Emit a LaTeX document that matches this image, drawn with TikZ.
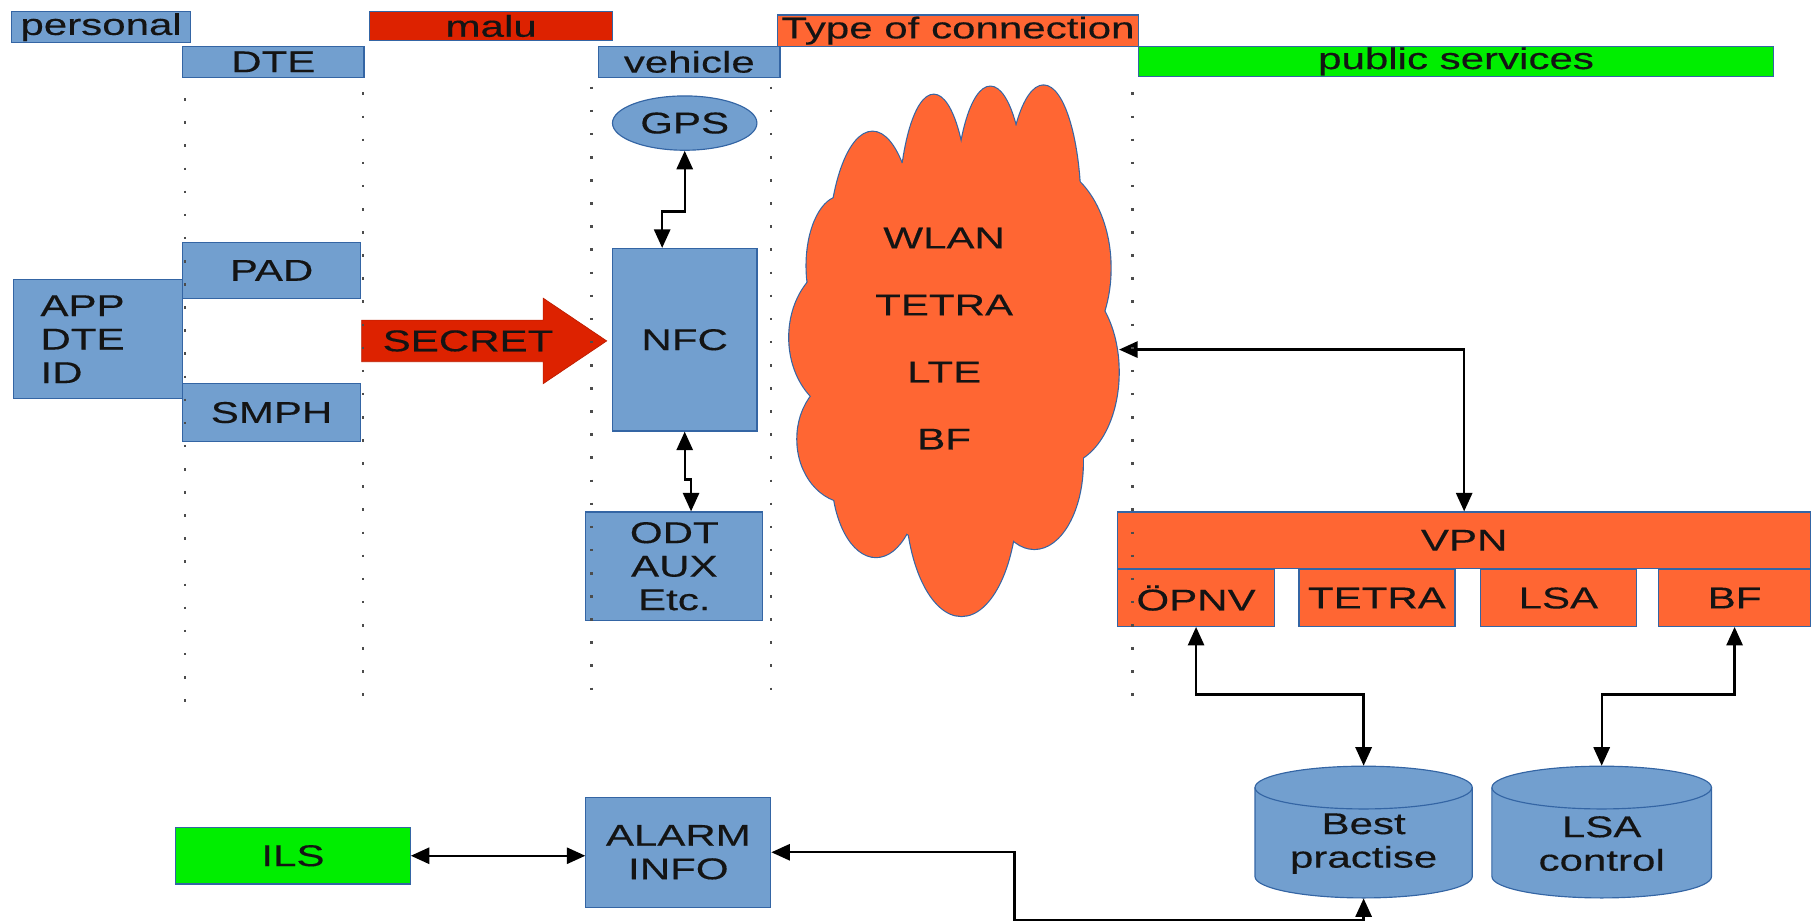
\documentclass[tikz,border=0pt]{standalone}
\usepackage{fontspec}
\setmainfont{Liberation Sans}[FakeStretch=1.4,FakeBold=0.3]
\usetikzlibrary{arrows.meta,shapes.geometric}
\definecolor{boxblue}{HTML}{729FCF}
\definecolor{bordc}{HTML}{3465A4}
\definecolor{orangec}{HTML}{FF6633}
\definecolor{reddc}{HTML}{DD2200}
\definecolor{greenc}{HTML}{00EE00}
\definecolor{txtc}{HTML}{141414}
\tikzset{
  base/.style={draw=bordc, line width=0.5pt, inner sep=0pt, rectangle, text=txtc, align=center,
    font=\fontsize{13}{14.5}\selectfont},
  bluebox/.style={base, fill=boxblue},
  orbox/.style={base, fill=orangec},
  redbox/.style={base, fill=reddc},
  grbox/.style={base, fill=greenc},
  txt/.style={inner sep=0pt, text=txtc, align=center, font=\fontsize{13}{14.5}\selectfont},
  conn/.style={line width=1pt, black, {Triangle[length=8pt,width=7pt]}-{Triangle[length=8pt,width=7pt]}},
  dotl/.style={line width=1.1pt, black!70, dash pattern=on 1.1pt off 8.9pt},
  cyl/.style={draw=bordc, fill=boxblue, line width=0.5pt}
}
\begin{document}
\begin{tikzpicture}[x=0.5pt,y=-0.5pt]
\useasboundingbox (0,0) rectangle (1568,799);

% headers
\node[bluebox, minimum width=77.5pt, minimum height=13.5pt] (personal) at (87.5,23.5) {personal};
\node[bluebox, minimum width=78.5pt, minimum height=13.5pt] (dte) at (236.5,53.5) {DTE};
\node[redbox, minimum width=105pt, minimum height=12.5pt] (malu) at (425,22.5) {malu};
\node[bluebox, minimum width=78.5pt, minimum height=13.5pt] (vehicle) at (596.5,53.5) {vehicle};
\node[orbox, minimum width=156pt, minimum height=13.5pt] (typeconn) at (829,26.5) {Type of connection};
\node[grbox, minimum width=275pt, minimum height=13pt] (public) at (1260,53) {public services};

% left blocks
\node[bluebox, minimum width=73pt, minimum height=51.5pt, inner xsep=11.5pt, text width=50pt, align=left] (app) at (85,293.5) {APP\\DTE\\ID};
\node[bluebox, minimum width=77pt, minimum height=24pt] (pad) at (235,234) {PAD};
\node[bluebox, minimum width=77pt, minimum height=25pt] (smph) at (235,357) {SMPH};

% secret arrow
\draw[fill=reddc, draw=reddc!85!black, line width=0.3pt] (313,277) -- (470,277) -- (470,258) -- (525,295) -- (470,332) -- (470,313) -- (313,313) -- cycle;
\node[txt] (secret) at (405,295) {SECRET};

% vehicle column
\node[base, ellipse, fill=boxblue, minimum width=62.5pt, minimum height=23.5pt] (gps) at (592.5,106.5) {GPS};
\node[bluebox, minimum width=62.5pt, minimum height=79pt] (nfc) at (592.5,294) {NFC};
\node[bluebox, minimum width=76.5pt, minimum height=47pt] (odt) at (583.5,490) {ODT\\AUX\\Etc.};

% cloud: union of puffs
\def\puffs{755/222/38/108, 808/190/30/108, 857/181/30/106, 903/182/32/108, 900/232/61/90,
  918/322/50/80, 895/400/42/75, 832/430/48/103, 758/410/38/72, 735/380/45/55, 735/292/52/66,
  728/230/30/60, 825/300/105/175}
\foreach \cx/\cy/\rx/\ry in \puffs
  \draw[draw=bordc, line width=1pt, fill=orangec] (\cx,\cy) ellipse[x radius=\rx*0.5pt, y radius=\ry*0.5pt];
\foreach \cx/\cy/\rx/\ry in \puffs
  \fill[orangec] (\cx,\cy) ellipse[x radius=\rx*0.5pt, y radius=\ry*0.5pt];
\node[minimum width=142.5pt, minimum height=230.5pt, inner sep=0pt] (cloud) at (825.5,302.5) {};
\node[txt] (cloudtext) at (817,293) {WLAN\\[14.5pt]TETRA\\[14.5pt]LTE\\[14.5pt]BF};

% VPN
\node[orbox, minimum width=300pt, minimum height=24.5pt] (vpn) at (1267,467.5) {VPN};
\node[orbox, minimum width=68pt, minimum height=24.5pt] (opnv) at (1035,517.5) {ÖPNV};
\node[orbox, minimum width=67.5pt, minimum height=24.5pt] (tetra) at (1191.5,517.5) {TETRA};
\node[orbox, minimum width=67.5pt, minimum height=24.5pt] (lsa) at (1348.5,517.5) {LSA};
\node[orbox, minimum width=66pt, minimum height=24.5pt] (bf) at (1501,517.5) {BF};

% cylinders
\draw[cyl] (1086,681.5) -- (1086,758.5) arc[start angle=180, end angle=360, x radius=47pt, y radius=9.25pt]
  -- (1274,681.5) arc[start angle=0, end angle=180, x radius=47pt, y radius=9.25pt] -- cycle;
\draw[bordc, line width=0.5pt] (1086,681.5) arc[start angle=180, end angle=360, x radius=47pt, y radius=9.25pt];
\node[minimum width=94pt, minimum height=57pt, inner sep=0pt] (best) at (1180,720) {};
\node[txt] (besttext) at (1180,730) {Best\\practise};

\draw[cyl] (1291,681.5) -- (1291,758.5) arc[start angle=180, end angle=360, x radius=47.5pt, y radius=9.25pt]
  -- (1481,681.5) arc[start angle=0, end angle=180, x radius=47.5pt, y radius=9.25pt] -- cycle;
\draw[bordc, line width=0.5pt] (1291,681.5) arc[start angle=180, end angle=360, x radius=47.5pt, y radius=9.25pt];
\node[minimum width=95pt, minimum height=57pt, inner sep=0pt] (lsac) at (1386,720) {};
\node[txt] (lsactext) at (1386,730) {LSA\\control};

% bottom
\node[grbox, minimum width=101.5pt, minimum height=24.5pt] (ils) at (253.5,740.5) {ILS};
\node[bluebox, minimum width=80pt, minimum height=47.5pt] (alarm) at (587,737.5) {ALARM\\INFO};

% connectors
\coordinate (g1) at (592.5,183);
\coordinate (g2) at (573,183);
\draw[conn] (gps.south) -- (g1) -- (g2) -- (g2 |- nfc.north);
\coordinate (n1) at (592.5,415);
\coordinate (n2) at (598,415);
\draw[conn] (nfc.south) -- (n1) -- (n2) -- (n2 |- odt.north);
\draw[conn] (cloud.east) -| (vpn.north);
\coordinate (m1) at (1107,601);
\draw[conn] (opnv.south) |- (m1) -| (best.north);
\coordinate (m2) at (1440,601);
\draw[conn] (bf.south) |- (m2) -| (lsac.north);
\draw[conn] (ils.east) -- (ils.east -| alarm.west);
\coordinate (a1) at (878,796);
\draw[conn] (alarm.east) -| (a1) -| (best.south);

% dotted guides
\foreach \x/\ya in {160/85,314/80,512/75,667/75,980/80}
  \draw[dotl] (\x,\ya) -- (\x,612);
\end{tikzpicture}
\end{document}
